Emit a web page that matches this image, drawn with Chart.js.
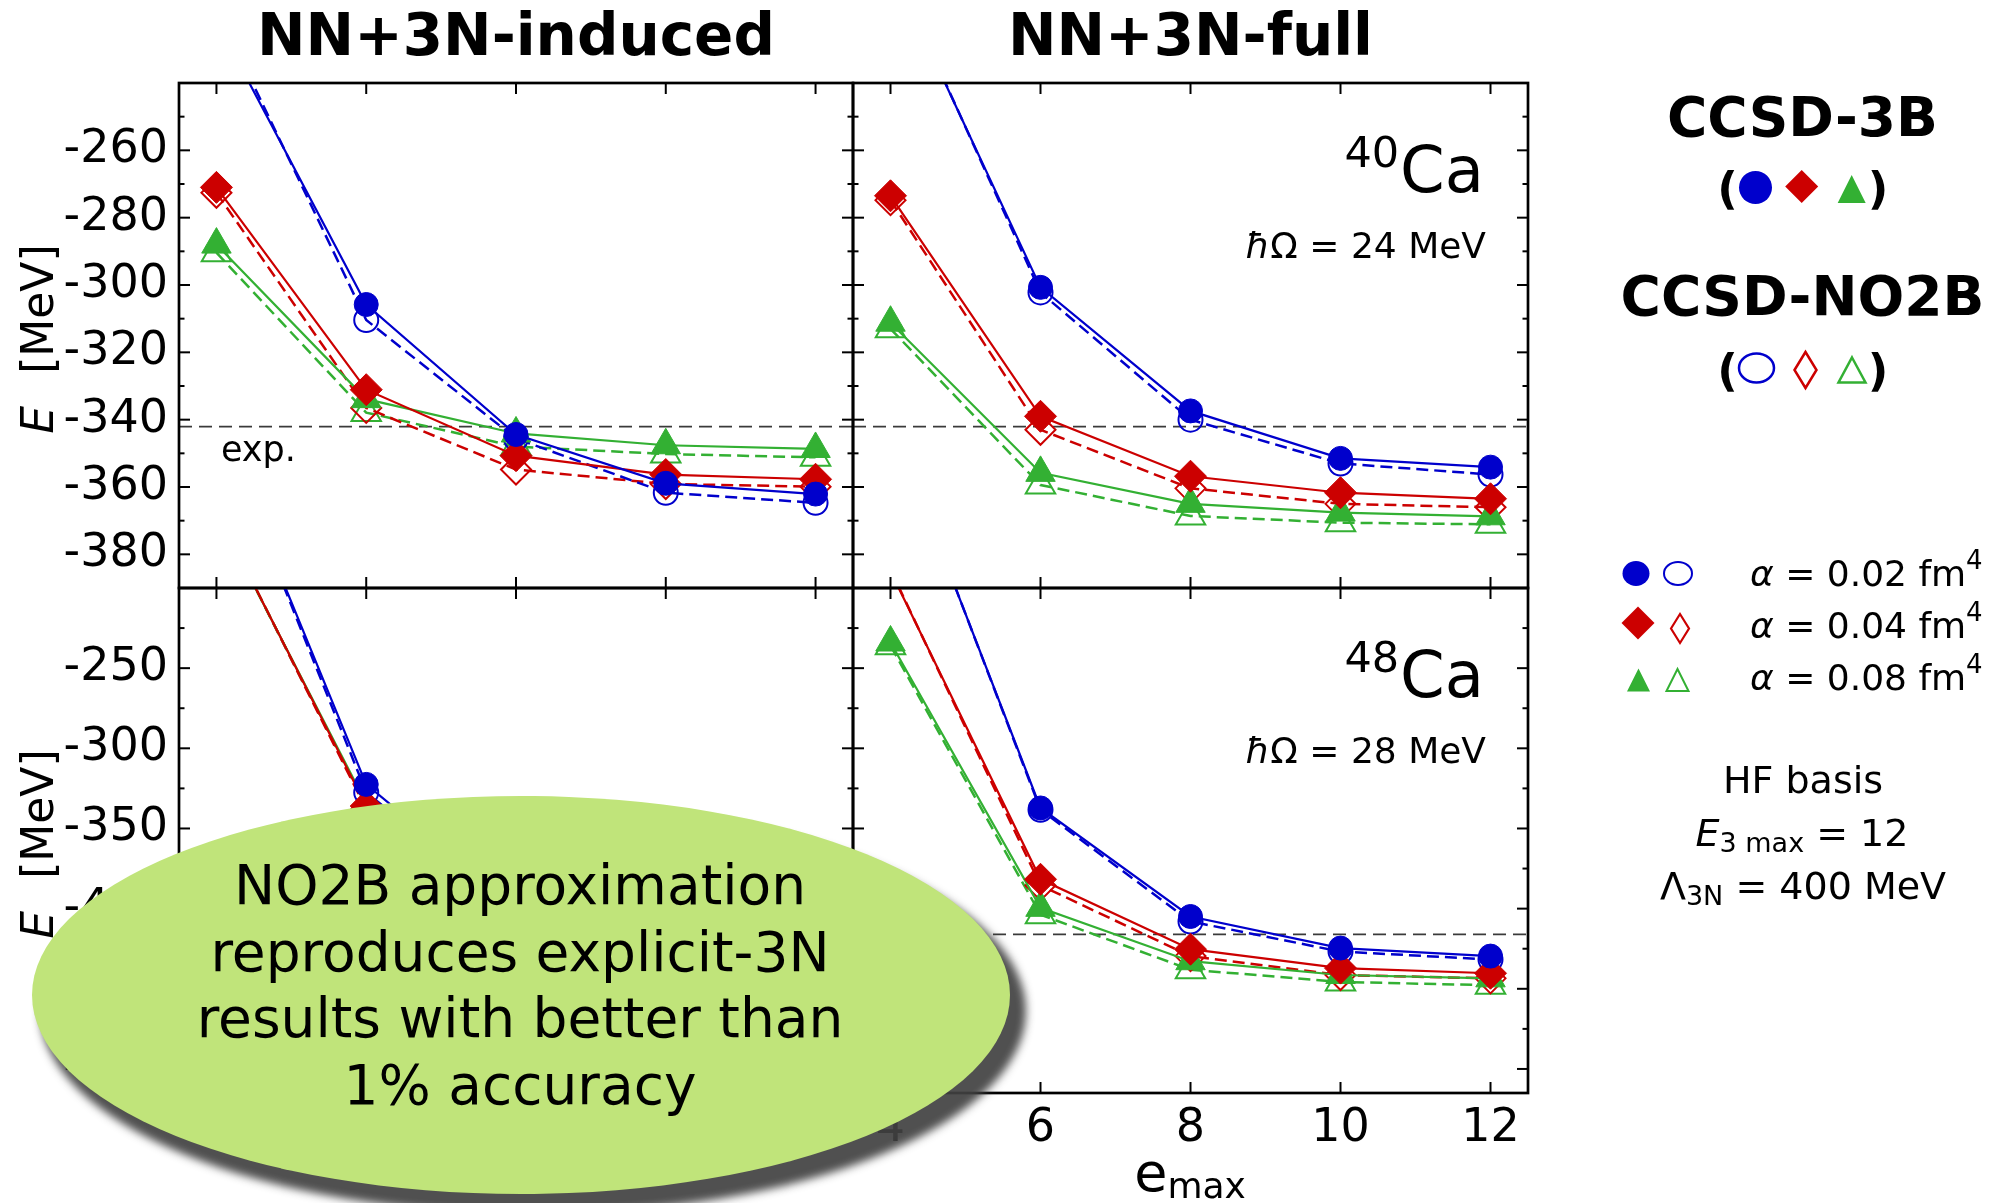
<!DOCTYPE html>
<html>
<head>
<meta charset="utf-8">
<script src="https://cdn.jsdelivr.net/npm/chart.js@4.4.1/dist/chart.umd.min.js"></script>
<style>
  html, body { margin: 0; padding: 0; background: #fff; }
  #wrap { position: relative; width: 2001px; height: 1203px; overflow: hidden; background: #fff; }
  canvas.layer { position: absolute; left: 0; top: 0; }
  #bubble { position: absolute; left: 32px; top: 796px; width: 978px; height: 398px; border-radius: 50%;
            background: rgb(192, 228, 122); box-shadow: 12px 16px 9px 4px rgba(65, 65, 65, 0.92); }
  #bubbleText { position: absolute; left: 32px; top: 852px; width: 976px; text-align: center;
                font-family: 'DejaVu Sans', sans-serif; font-size: 55px; line-height: 66.5px; color: #000; }
</style>
</head>
<body>
<div id="wrap">
  <canvas id="cTL" class="layer" width="2001" height="1203"></canvas>
  <canvas id="cTR" class="layer" width="2001" height="1203"></canvas>
  <canvas id="cBL" class="layer" width="2001" height="1203"></canvas>
  <canvas id="cBR" class="layer" width="2001" height="1203"></canvas>
  <div id="bubble"></div>
  <div id="bubbleText">NO2B approximation<br>reproduces explicit-3N<br>results with better than<br>1% accuracy</div>
</div>
<script>
// ---------------- DATA ----------------
const emax = [4, 6, 8, 10, 12];
const alphaLabels = ['α = 0.02 fm⁴', 'α = 0.04 fm⁴', 'α = 0.08 fm⁴'];

// 40Ca, NN+3N-induced  (3B = filled / solid, NO2B = open / dashed)
const ca40Ind_3B_a002   = [-221.5, -305.8, -344.4, -358.9, -362.1];
const ca40Ind_NO2B_a002 = [-217.7, -310.4, -345.6, -361.7, -364.7];
const ca40Ind_3B_a004   = [-271.0, -331.1, -350.7, -356.3, -357.7];
const ca40Ind_NO2B_a004 = [-272.6, -336.5, -354.8, -359.1, -359.9];
const ca40Ind_3B_a008   = [-288.0, -333.9, -344.1, -347.6, -348.7];
const ca40Ind_NO2B_a008 = [-290.4, -337.9, -348.0, -350.2, -351.2];

// 40Ca, NN+3N-full
const ca40Full_3B_a002   = [-205.3, -300.7, -337.4, -351.5, -354.1];
const ca40Full_NO2B_a002 = [-204.0, -302.2, -340.0, -353.0, -356.3];
const ca40Full_3B_a004   = [-273.5, -339.0, -356.8, -361.7, -363.5];
const ca40Full_NO2B_a004 = [-274.8, -343.0, -360.4, -365.0, -366.0];
const ca40Full_3B_a008   = [-311.2, -355.8, -365.0, -367.6, -368.7];
const ca40Full_NO2B_a008 = [-313.0, -359.4, -368.6, -370.6, -371.1];

// 48Ca, NN+3N-induced (e_max >= 8 hidden behind the bubble in the original)
const ca48Ind_3B_a002   = [-95.0, -322.5, -400.0, -424.0, -431.0];
const ca48Ind_NO2B_a002 = [-94.0, -327.5, -403.0, -427.0, -434.0];
const ca48Ind_3B_a004   = [-152.0, -336.0, -406.0, -429.0, -434.0];
const ca48Ind_NO2B_a004 = [-151.0, -338.0, -410.0, -432.0, -437.0];
const ca48Ind_3B_a008   = [-153.0, -334.5, -402.0, -424.0, -429.0];
const ca48Ind_NO2B_a008 = [-152.0, -336.5, -405.0, -427.0, -432.0];

// 48Ca, NN+3N-full
const ca48Full_3B_a002   = [-95.0, -337.2, -404.9, -424.6, -429.6];
const ca48Full_NO2B_a002 = [-94.0, -338.3, -408.0, -426.8, -431.7];
const ca48Full_3B_a004   = [-189.5, -381.7, -425.3, -437.1, -440.3];
const ca48Full_NO2B_a004 = [-188.5, -385.5, -429.6, -441.4, -443.5];
const ca48Full_3B_a008   = [-234.0, -399.5, -432.8, -441.4, -443.5];
const ca48Full_NO2B_a008 = [-236.0, -403.8, -438.1, -445.7, -447.8];

// experiment
const expCa40 = -342.05;
const expCa48 = -416.0;

// axes / ticks
const xRange = [3.5, 12.5];
const xTicks = [4, 6, 8, 10, 12];
const yRangeCa40 = [-390, -240];
const yTicksCa40 = [-380, -360, -340, -320, -300, -280, -260];
const yMinorCa40 = [-390, -370, -350, -330, -310, -290, -270, -250];
const yRangeCa48 = [-515, -200];
const yTicksCa48 = [-500, -450, -400, -350, -300, -250];
const yMinorCa48 = [-475, -425, -375, -325, -275, -225];

// ---------------- STYLE ----------------
const FONT = "'DejaVu Sans', 'Liberation Sans', sans-serif";
Chart.defaults.font.family = FONT;
Chart.defaults.color = '#000';
const COLORS = ['#0000cc', '#cc0000', '#33b033'];
const STYLES = ['circle', 'rectRot', 'triangle'];
const R_FILLED = [12, 16, 17];
const R_OPEN = [12, 15, 17];

function buildDatasets(filled, open, expVal) {
  const ds = [];
  filled.forEach((arr, i) => ds.push({
    label: 'CCSD-3B ' + alphaLabels[i],
    data: emax.map((x, j) => ({ x: x, y: arr[j] })),
    borderColor: COLORS[i], backgroundColor: COLORS[i], borderWidth: 2.2,
    pointStyle: STYLES[i], pointRadius: R_FILLED[i], pointHoverRadius: R_FILLED[i],
    pointBackgroundColor: COLORS[i], pointBorderColor: COLORS[i], pointBorderWidth: 1,
    tension: 0, fill: false
  }));
  open.forEach((arr, i) => ds.push({
    label: 'CCSD-NO2B ' + alphaLabels[i],
    data: emax.map((x, j) => ({ x: x, y: arr[j] })),
    borderColor: COLORS[i], backgroundColor: 'rgba(0,0,0,0)', borderWidth: 2.5, borderDash: [12, 6],
    pointStyle: STYLES[i], pointRadius: R_OPEN[i], pointHoverRadius: R_OPEN[i],
    pointBackgroundColor: 'rgba(255,255,255,0)', pointBorderColor: COLORS[i], pointBorderWidth: 2,
    tension: 0, fill: false
  }));
  ds.push({
    label: 'exp.',
    data: [{ x: xRange[0], y: expVal }, { x: xRange[1], y: expVal }],
    borderColor: '#3a3a3a', borderWidth: 1.8, borderDash: [13, 7], pointRadius: 0, fill: false
  });
  return ds;
}

const panelInfo = {};   // per-canvas frame / decoration info

function line(ctx, x1, y1, x2, y2) { ctx.beginPath(); ctx.moveTo(x1, y1); ctx.lineTo(x2, y2); ctx.stroke(); }

const framePlugin = {
  id: 'frameTicks',
  afterDatasetsDraw(chart) {
    const info = panelInfo[chart.canvas.id];
    const { ctx, chartArea: a } = chart;
    const xs = chart.scales.x, ys = chart.scales.y;
    ctx.save();
    ctx.strokeStyle = '#000';
    ctx.lineWidth = 2;
    xTicks.forEach(v => {
      const px = xs.getPixelForValue(v);
      line(ctx, px, a.bottom, px, a.bottom - 11);
      line(ctx, px, a.top, px, a.top + 11);
    });
    info.yMajor.forEach(v => {
      const py = ys.getPixelForValue(v);
      line(ctx, a.left, py, a.left + 11, py);
      line(ctx, a.right, py, a.right - 11, py);
    });
    info.yMinor.forEach(v => {
      const py = ys.getPixelForValue(v);
      line(ctx, a.left, py, a.left + 5.5, py);
      line(ctx, a.right, py, a.right - 5.5, py);
    });
    ctx.lineWidth = 2.7;
    ctx.strokeRect(a.left, a.top, a.right - a.left, a.bottom - a.top);
    ctx.restore();
  },
  afterDraw(chart) {
    const info = panelInfo[chart.canvas.id];
    if (info.decor) { chart.ctx.save(); info.decor(chart); chart.ctx.restore(); }
  }
};

function makeChart(id, area, filled, open, expVal, yRange, yMajor, yMinor, showY, showX, decor) {
  panelInfo[id] = { yMajor, yMinor, decor };
  return new Chart(document.getElementById(id), {
    type: 'line',
    data: { datasets: buildDatasets(filled, open, expVal) },
    options: {
      responsive: false, animation: false, devicePixelRatio: 1,
      layout: { padding: { left: 0, top: area.t, right: 2001 - area.r, bottom: 0 } },
      plugins: { legend: { display: false }, tooltip: { enabled: false } },
      scales: {
        x: {
          type: 'linear', min: xRange[0], max: xRange[1],
          afterBuildTicks: s => { s.ticks = xTicks.map(v => ({ value: v })); },
          afterFit: s => { s.height = 1203 - area.b; },
          grid: { display: false, drawTicks: false }, border: { display: false },
          ticks: { display: showX, font: { size: 46 }, color: '#000', padding: 8, maxRotation: 0, autoSkip: false }
        },
        y: {
          type: 'linear', min: yRange[0], max: yRange[1],
          afterBuildTicks: s => { s.ticks = yMajor.map(v => ({ value: v })); },
          afterFit: s => { s.width = area.l; },
          grid: { display: false, drawTicks: false }, border: { display: false },
          ticks: { display: showY, font: { size: 46 }, color: '#000', padding: 11, autoSkip: false }
        }
      }
    },
    plugins: [framePlugin]
  });
}

// ---------------- TEXT HELPERS ----------------
function put(ctx, s, x, y, font, align) {
  ctx.font = font; ctx.textAlign = align || 'left'; ctx.textBaseline = 'alphabetic'; ctx.fillStyle = '#000';
  ctx.fillText(s, x, y);
}
function width(ctx, s, font) { ctx.font = font; return ctx.measureText(s).width; }
function runs(ctx, pieces, x, y, align) {
  const total = pieces.reduce((w, p) => w + width(ctx, p[0], p[1]), 0);
  let cx = align === 'center' ? x - total / 2 : (align === 'right' ? x - total : x);
  pieces.forEach(p => { put(ctx, p[0], cx, y + (p[2] || 0), p[1], 'left'); cx += width(ctx, p[0], p[1]); });
}
function isotope(ctx, a, mass, hw) {
  const rx = a.right - 44;
  const fCa = '64px ' + FONT, fSup = '43px ' + FONT;
  const wCa = width(ctx, 'Ca', fCa), wM = width(ctx, mass, fSup);
  put(ctx, 'Ca', rx - wCa, a.top + 109, fCa);
  put(ctx, mass, rx - wCa - wM - 1, a.top + 84, fSup);
  const f = '36px ' + FONT, fi = 'italic 36px ' + FONT;
  runs(ctx, [['ħ', fi], ['Ω', f], [' = ' + hw + ' MeV', f]], rx + 2, a.top + 175, 'right');
}
function yTitle(ctx, cy) {
  ctx.save();
  ctx.translate(53, cy);
  ctx.rotate(-Math.PI / 2);
  const fi = 'italic 44px ' + FONT, f = '44px ' + FONT;
  const wE = width(ctx, 'E', fi), wM = width(ctx, '[MeV]', f), gap = 32;
  const start = -(wE + gap + wM) / 2;
  put(ctx, 'E', start, 0, fi);
  put(ctx, '[MeV]', start + wE + gap, 0, f);
  ctx.restore();
}
function shape(ctx, type, cx, cy, w, h, color, filled, lw) {
  ctx.beginPath();
  if (type === 'circle') ctx.ellipse(cx, cy, w / 2, h / 2, 0, 0, Math.PI * 2);
  else if (type === 'diamond') { ctx.moveTo(cx - w / 2, cy); ctx.lineTo(cx, cy - h / 2); ctx.lineTo(cx + w / 2, cy); ctx.lineTo(cx, cy + h / 2); ctx.closePath(); }
  else { ctx.moveTo(cx, cy - h / 2); ctx.lineTo(cx + w / 2, cy + h / 2); ctx.lineTo(cx - w / 2, cy + h / 2); ctx.closePath(); }
  if (filled) { ctx.fillStyle = color; ctx.fill(); }
  else { ctx.strokeStyle = color; ctx.lineWidth = lw || 2; ctx.stroke(); }
}

// ---------------- PANELS ----------------
const areaTL = { l: 179, t: 83, r: 853, b: 588 };
const areaTR = { l: 853, t: 83, r: 1528, b: 588 };
const areaBL = { l: 179, t: 588, r: 853, b: 1093 };
const areaBR = { l: 853, t: 588, r: 1528, b: 1093 };

makeChart('cTL', areaTL,
  [ca40Ind_3B_a002, ca40Ind_3B_a004, ca40Ind_3B_a008],
  [ca40Ind_NO2B_a002, ca40Ind_NO2B_a004, ca40Ind_NO2B_a008],
  expCa40, yRangeCa40, yTicksCa40, yMinorCa40, true, false,
  chart => {
    const ctx = chart.ctx;
    const px = chart.scales.x.getPixelForValue(4.06);
    const py = chart.scales.y.getPixelForValue(-352.3);
    put(ctx, 'exp.', px, py, '35px ' + FONT);
    yTitle(ctx, 339);
    put(ctx, 'NN+3N-induced', 516, 55, 'bold 58px ' + FONT, 'center');
  });

makeChart('cTR', areaTR,
  [ca40Full_3B_a002, ca40Full_3B_a004, ca40Full_3B_a008],
  [ca40Full_NO2B_a002, ca40Full_NO2B_a004, ca40Full_NO2B_a008],
  expCa40, yRangeCa40, yTicksCa40, yMinorCa40, false, false,
  chart => {
    const ctx = chart.ctx;
    isotope(ctx, chart.chartArea, '40', '24');
    put(ctx, 'NN+3N-full', 1190.5, 55, 'bold 58px ' + FONT, 'center');
    // legend block
    const fb = 'bold 55px ' + FONT;
    put(ctx, 'CCSD-3B', 1802.5, 136, fb, 'center');
    put(ctx, 'CCSD-NO2B', 1802.5, 315, fb, 'center');
    const fp = 'bold 45px ' + FONT;
    put(ctx, '(', 1727.5, 204, fp, 'center'); put(ctx, ')', 1878, 204, fp, 'center');
    put(ctx, '(', 1727.5, 386, fp, 'center'); put(ctx, ')', 1878, 386, fp, 'center');
    shape(ctx, 'circle', 1755.5, 187.5, 33, 33, COLORS[0], true);
    shape(ctx, 'diamond', 1801.7, 186.5, 33, 33, COLORS[1], true);
    shape(ctx, 'triangle', 1851.7, 189, 28, 28, COLORS[2], true);
    shape(ctx, 'circle', 1756.5, 368, 35, 29, COLORS[0], false, 2.5);
    shape(ctx, 'diamond', 1805.5, 370, 22, 36, COLORS[1], false, 2.5);
    shape(ctx, 'triangle', 1852, 370, 27, 25, COLORS[2], false, 2.5);
    // alpha rows
    shape(ctx, 'circle', 1636, 573.5, 27, 25, COLORS[0], true);
    shape(ctx, 'circle', 1678, 573.5, 28, 23, COLORS[0], false, 2);
    shape(ctx, 'diamond', 1638, 623, 33, 33, COLORS[1], true);
    shape(ctx, 'diamond', 1680, 628.5, 18, 29, COLORS[1], false, 2.2);
    shape(ctx, 'triangle', 1638.5, 680, 23, 23, COLORS[2], true);
    shape(ctx, 'triangle', 1677.5, 680, 22, 22, COLORS[2], false, 2);
    const fa = '36px ' + FONT, fai = 'italic 36px ' + FONT, fs = '26px ' + FONT;
    const aVals = ['0.02', '0.04', '0.08'], aBase = [586, 638, 690];
    aVals.forEach((v, i) => runs(ctx, [['α', fai], [' = ' + v + ' fm', fa], ['4', fs, -17]], 1750, aBase[i], 'left'));
    const fh = '38px ' + FONT, fhi = 'italic 38px ' + FONT, fsub = '27px ' + FONT;
    put(ctx, 'HF basis', 1803, 792.5, fh, 'center');
    runs(ctx, [['E', fhi], ['3 max', fsub, 6], [' = 12', fh]], 1802, 846, 'center');
    runs(ctx, [['Λ', fh], ['3N', fsub, 6], [' = 400 MeV', fh]], 1803, 899, 'center');
  });

makeChart('cBL', areaBL,
  [ca48Ind_3B_a002, ca48Ind_3B_a004, ca48Ind_3B_a008],
  [ca48Ind_NO2B_a002, ca48Ind_NO2B_a004, ca48Ind_NO2B_a008],
  expCa48, yRangeCa48, yTicksCa48, yMinorCa48, true, true,
  chart => { yTitle(chart.ctx, 844); });

makeChart('cBR', areaBR,
  [ca48Full_3B_a002, ca48Full_3B_a004, ca48Full_3B_a008],
  [ca48Full_NO2B_a002, ca48Full_NO2B_a004, ca48Full_NO2B_a008],
  expCa48, yRangeCa48, yTicksCa48, yMinorCa48, false, true,
  chart => {
    const ctx = chart.ctx;
    isotope(ctx, chart.chartArea, '48', '28');
    runs(ctx, [['e', '54px ' + FONT], ['max', '36px ' + FONT, 7]], 1190, 1191, 'center');
  });
</script>
</body>
</html>
